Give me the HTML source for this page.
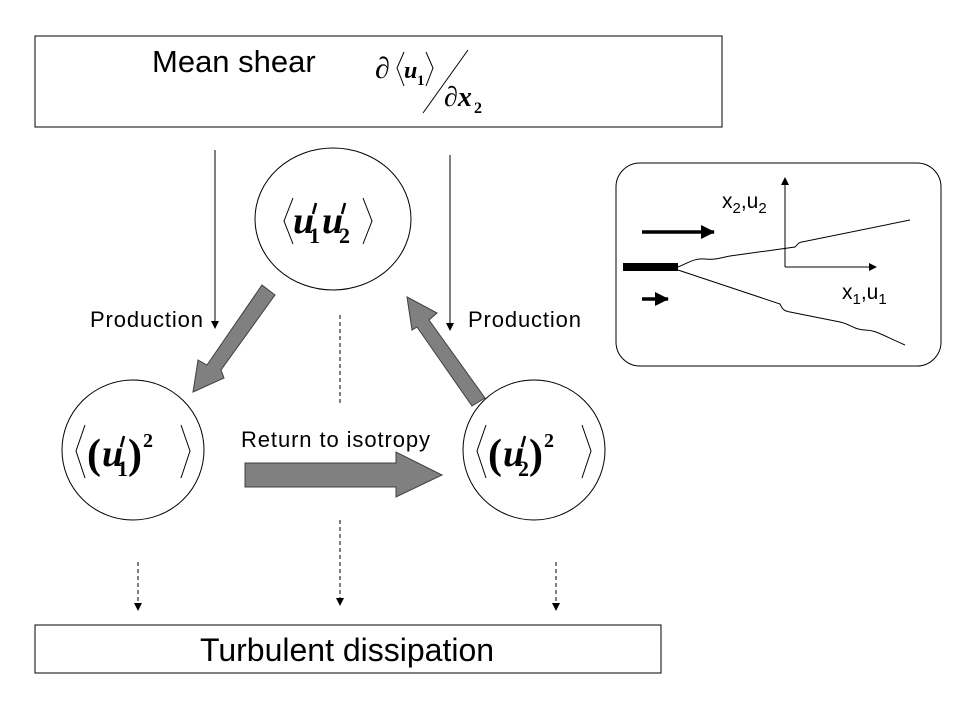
<!DOCTYPE html>
<html><head><style>
html,body{margin:0;padding:0;background:#fff;}
svg{display:block;}
.s{font-family:"Liberation Sans",sans-serif;}
.m{font-family:"Liberation Serif",serif;font-style:italic;font-weight:bold;}
.n{font-family:"Liberation Serif",serif;font-weight:bold;}
</style></head><body>
<svg width="960" height="720" viewBox="0 0 960 720" xmlns="http://www.w3.org/2000/svg">
<defs>
<marker id="ah" markerWidth="8" markerHeight="10" refX="7" refY="5" orient="auto" markerUnits="userSpaceOnUse">
<path d="M0,1 L8,5 L0,9 Z" fill="#000"/></marker>
<marker id="ahb" markerWidth="14" markerHeight="14" refX="13" refY="7" orient="auto" markerUnits="userSpaceOnUse">
<path d="M0,0 L14,7 L0,14 Z" fill="#000"/></marker>
</defs>
<rect x="35" y="36" width="687" height="91" fill="#fff" stroke="#000" stroke-width="1"/>
<text x="152" y="72" class="s" font-size="31">Mean shear</text>
<text x="375" y="78" class="m" font-size="30">∂</text>
<polyline points="404,52 397,68 404,86" fill="none" stroke="#000" stroke-width="1"/>
<text x="404" y="78" class="m" font-size="24">u</text>
<text x="417" y="85" class="n" font-size="15">1</text>
<polyline points="426,52 433,68 426,86" fill="none" stroke="#000" stroke-width="1"/>
<line x1="423" y1="113" x2="468" y2="50" stroke="#000" stroke-width="1"/>
<text x="444" y="106" class="m" font-size="28">∂x</text>
<text x="474" y="113" class="n" font-size="16">2</text>

<ellipse cx="333" cy="219" rx="78" ry="71" fill="#fff" stroke="#000" stroke-width="1"/>
<polyline points="293,198 284,221 293,244" fill="none" stroke="#000" stroke-width="1"/>
<text x="293" y="233" class="m" font-size="38">u</text>
<line x1="316" y1="203" x2="313" y2="214" stroke="#000" stroke-width="2.5"/>
<text x="309" y="243" class="n" font-size="22">1</text>
<text x="322" y="233" class="m" font-size="38">u</text>
<line x1="345" y1="203" x2="342" y2="214" stroke="#000" stroke-width="2.5"/>
<text x="339" y="243" class="n" font-size="22">2</text>
<polyline points="363,198 372,221 363,244" fill="none" stroke="#000" stroke-width="1"/>

<ellipse cx="133" cy="450" rx="71" ry="70" fill="#fff" stroke="#000" stroke-width="1"/>
<polyline points="85,425 76,451 85,478" fill="none" stroke="#000" stroke-width="1"/>
<text x="87" y="468" class="n" font-size="42">(</text>
<text x="102" y="466" class="m" font-size="38">u</text>
<line x1="124" y1="436" x2="121" y2="447" stroke="#000" stroke-width="2.5"/>
<text x="117" y="476" class="n" font-size="22">1</text>
<text x="128" y="468" class="n" font-size="42">)</text>
<text x="143" y="447" class="n" font-size="20">2</text>
<polyline points="181,425 190,451 181,478" fill="none" stroke="#000" stroke-width="1"/>

<ellipse cx="534" cy="450" rx="71" ry="70" fill="#fff" stroke="#000" stroke-width="1"/>
<polyline points="486,425 477,451 486,478" fill="none" stroke="#000" stroke-width="1"/>
<text x="488" y="468" class="n" font-size="42">(</text>
<text x="503" y="466" class="m" font-size="38">u</text>
<line x1="525" y1="436" x2="522" y2="447" stroke="#000" stroke-width="2.5"/>
<text x="518" y="476" class="n" font-size="22">2</text>
<text x="529" y="468" class="n" font-size="42">)</text>
<text x="544" y="447" class="n" font-size="20">2</text>
<polyline points="582,425 591,451 582,478" fill="none" stroke="#000" stroke-width="1"/>

<line x1="215" y1="150" x2="215" y2="328" stroke="#000" stroke-width="1" marker-end="url(#ah)"/>
<line x1="450" y1="155" x2="450" y2="330" stroke="#000" stroke-width="1" marker-end="url(#ah)"/>
<text x="90" y="327" class="s" font-size="22" textLength="113">Production</text>
<text x="468" y="327" class="s" font-size="22" textLength="113">Production</text>

<polygon points="262,285 275,295 221,370 224,378 193,392 198,360 207,365" fill="#808080" stroke="#404040" stroke-width="1"/>
<polygon points="407,297 437,313 429,320 485,398 472,406 417,327 412,330" fill="#808080" stroke="#404040" stroke-width="1"/>
<polygon points="245,463 396,463 396,452 442,475 396,497 396,487 245,487" fill="#808080" stroke="#404040" stroke-width="1"/>
<text x="241" y="447" class="s" font-size="22" textLength="189">Return to isotropy</text>

<line x1="340" y1="315" x2="340" y2="405" stroke="#000" stroke-width="1" stroke-dasharray="4,3"/>
<line x1="340" y1="520" x2="340" y2="605" stroke="#000" stroke-width="1" stroke-dasharray="4,3" marker-end="url(#ah)"/>
<line x1="138" y1="562" x2="138" y2="610" stroke="#000" stroke-width="1" stroke-dasharray="4,3" marker-end="url(#ah)"/>
<line x1="556" y1="562" x2="556" y2="610" stroke="#000" stroke-width="1" stroke-dasharray="4,3" marker-end="url(#ah)"/>

<rect x="35" y="625" width="626" height="48" fill="#fff" stroke="#000" stroke-width="1"/>
<text x="347" y="661" class="s" font-size="32" text-anchor="middle">Turbulent dissipation</text>

<rect x="616" y="163" width="325" height="203" rx="24" fill="#fff" stroke="#000" stroke-width="1"/>
<line x1="785" y1="267" x2="785" y2="178" stroke="#000" stroke-width="1" marker-end="url(#ah)"/>
<line x1="785" y1="267" x2="876" y2="267" stroke="#000" stroke-width="1" marker-end="url(#ah)"/>
<text x="722" y="208" class="s" font-size="21">x<tspan font-size="15" dy="5">2</tspan><tspan dy="-5">,u</tspan><tspan font-size="15" dy="5">2</tspan></text>
<text x="842" y="299" class="s" font-size="21">x<tspan font-size="15" dy="5">1</tspan><tspan dy="-5">,u</tspan><tspan font-size="15" dy="5">1</tspan></text>
<line x1="642" y1="232" x2="714" y2="232" stroke="#000" stroke-width="3.5" marker-end="url(#ahb)"/>
<line x1="642" y1="299" x2="668" y2="299" stroke="#000" stroke-width="3.5" marker-end="url(#ahb)"/>
<rect x="623" y="263" width="55" height="8" fill="#000"/>
<path d="M678,267 C690,262 695,258 705,259 C715,260 720,258 730,256 L795,247 C798,244 799,242 802,242 L910,220" fill="none" stroke="#000" stroke-width="1"/>
<path d="M678,270 L780,304 C782,308 783,311 790,312 L840,322 C850,324 855,330 865,330 C875,330 880,334 905,345" fill="none" stroke="#000" stroke-width="1"/>
</svg>
</body></html>
